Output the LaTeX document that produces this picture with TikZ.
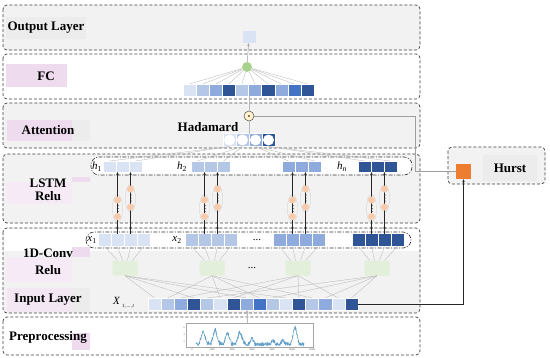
\documentclass[tikz,border=0pt]{standalone}
\usepackage{fontspec}
\setmainfont{Liberation Serif}
\usetikzlibrary{arrows.meta,shapes.misc,calc}
\definecolor{c0}{HTML}{DAE3F3}
\definecolor{c1}{HTML}{B4C7E7}
\definecolor{c2}{HTML}{8FAADC}
\definecolor{c3}{HTML}{2F5597}
\definecolor{c4}{HTML}{4472C4}
\definecolor{pgray}{HTML}{F2F2F2}
\definecolor{lgray}{HTML}{ECECEC}
\definecolor{lpink}{HTML}{EEDCEE}
\definecolor{ggreen}{HTML}{A9D18E}
\definecolor{hgreen}{HTML}{E2EFDA}
\definecolor{porange}{HTML}{F8CBAD}
\definecolor{yel}{HTML}{FFF2CC}
\definecolor{orng}{HTML}{ED7D31}
\definecolor{pblue}{HTML}{1F77B4}
\begin{document}
\begin{tikzpicture}[x=1pt,y=-1pt,
  panel/.style={draw=black!75, dash pattern=on 3pt off 2pt, line width=0.7pt, rounded corners=4pt},
  cell/.style={draw=white, line width=0.4pt, minimum width=13pt, minimum height=12pt, inner sep=0pt, outer sep=0pt},
  thinl/.style={draw=gray!55, line width=0.35pt},
  gline/.style={draw=gray!75, line width=0.6pt},
  arr/.style={draw=black!85, line width=0.6pt, -{Stealth[length=3pt,width=2.5pt]}},
  lab/.style={font=\fontsize{13}{14}\selectfont\bfseries, inner sep=0pt},
  hl/.style={font=\fontsize{11}{12}\selectfont, inner sep=0pt},
  dd/.style={draw=black!80, dash pattern=on 4pt off 1.5pt on 1pt off 1.5pt, line width=0.6pt, rounded corners=8pt, fill=white},
  hexn/.style={chamfered rectangle, chamfered rectangle corners={north west,north east}, chamfered rectangle xsep=3pt, fill=hgreen, minimum width=25pt, minimum height=15pt, inner sep=0pt},
  pc/.style={circle, fill=porange, minimum size=7pt, inner sep=0pt},
  tk/.style={font=\fontsize{2.5}{3}\selectfont, inner sep=0pt, text=black!70}
]
\useasboundingbox (0,0) rectangle (550,357);
\fill[white] (0,0) rectangle (550,357);

% ---------- panels ----------
\draw[panel, fill=pgray] (3,5) rectangle (420,50);
\draw[panel, fill=white] (3,54) rectangle (420,99);
\draw[panel, fill=pgray] (3,103) rectangle (420,148);
\draw[panel, fill=pgray] (3,154) rectangle (420,223);
\draw[panel, fill=pgray] (3,228) rectangle (420,313);
\fill[white] (4,229) rectangle (419,251);
\draw[panel, fill=white] (3,317) rectangle (420,355);
\draw[panel, fill=pgray] (448,147) rectangle (545,184);

% ---------- left labels ----------
\fill[lgray] (6,17) rectangle (86,39);
\node[lab] (lout) at (46,28) {Output Layer};
\fill[lpink] (6,64) rectangle (67,87);
\node[lab] (lfc) at (46,76) {FC};
\fill[lpink] (7,120) rectangle (72,141);
\fill[lgray] (72,120) rectangle (90,141);
\node[lab] (latt) at (48,130) {Attention};
\fill[lpink] (72,177) rectangle (90,182);
\fill[lpink!60] (7,182) rectangle (72,204);
\fill[lgray!70] (72,182) rectangle (90,204);
\node[lab] (llstm) at (48,183) {LSTM};
\node[lab] (lrelu1) at (48,196) {Relu};
\fill[lpink] (72,247) rectangle (90,257);
\fill[lpink!60] (7,257) rectangle (72,282);
\node[lab] (lconv) at (48,253) {1D-Conv};
\node[lab] (lrelu2) at (48,270) {Relu};
\fill[lpink!70] (7,288) rectangle (72,312);
\fill[lgray] (72,288) rectangle (90,312);
\node[lab] (lin) at (48,300) {Input Layer};
\fill[lpink] (72,333) rectangle (90,350);
\node[lab] (lpre) at (48,337) {Preprocessing};

% ---------- output & FC ----------
\node[fill=c0, minimum width=13pt, minimum height=12pt, inner sep=0pt] (out) at (249,37) {};
\node[circle, fill=ggreen, minimum size=10pt, inner sep=0pt] (gc) at (247,67) {};
\draw[gline, line width=0.5pt, -{Stealth[length=3pt,width=2.5pt]}] (gc) -- (out);
\foreach \c [count=\i] in {c0,c1,c2,c3,c1,c2,c3,c2,c4,c3}
  \node[cell, fill=\c, minimum width=13.1pt] (fc\i) at ({183+6.55+13.1*(\i-1)},90) {};
\foreach \i in {1,...,10}
  \draw[thinl] (fc\i.north) -- (gc);

% ---------- attention ----------
\node[circle, fill=yel, draw=black!70, line width=0.5pt, minimum size=10pt, inner sep=0pt] (had) at (249,116) {};
\fill[black] (had) circle [radius=0.9pt];
\draw[thinl] (had.north) -- (had.north |- fc6.south);
\node[lab] (hadl) at (208,127) {Hadamard};
\foreach \c [count=\i] in {c0,c1,c2,c3} {
  \node[cell, fill=\c, minimum width=13pt, minimum height=13pt] (att\i) at ({223+6.5+13*(\i-1)},140) {};
  \fill[white] (att\i) circle [radius=5.5pt];
}
\draw[thinl] (had.south) -- (had.south |- att2.north);

% ---------- LSTM row ----------
\draw[dd] (91,157) rectangle (412,175);
\foreach \s/\c [count=\g] in {103/c0,191/c1,282/c2,358/c3}
  \foreach \k in {1,2,3}
    \node[cell, fill=\c, minimum width=13pt, minimum height=11pt] (h\g-\k) at ({\s+6.5+13*(\k-1)},166.5) {};
\node[hl] (lh1) at (97,166.5) {\textit{h}\textsubscript{1}};
\node[hl] (lh2) at (182,166.5) {\textit{h}\textsubscript{2}};
\node[hl] (lhn) at (342,166.5) {\textit{h}\textsubscript{\textit{n}}};
\foreach \g in {1,...,4} {
  \draw[thinl] (att\g.south) -- (h\g-1.north);
  \draw[thinl] (att\g.south) -- (h\g-3.north);
}

% ---------- conv row ----------
\draw[dd] (86,232) rectangle (411,248);
\foreach \s/\c [count=\g] in {98/c0,185/c1,273/c2,352/c3}
  \foreach \k in {1,2,3,4}
    \node[cell, fill=\c, minimum width=13pt, minimum height=13pt] (x\g-\k) at ({\s+6.5+13*(\k-1)},240) {};
\node[hl] (lx1) at (92,240) {\textit{x}\textsubscript{1}};
\node[hl] (lx2) at (177,240) {\textit{x}\textsubscript{2}};
\node[hl] (ldots1) at (257,240) {...};

% LSTM columns
\foreach \g in {1,...,4} {
  \path (x\g-2.north) ++(0,-25) coordinate (la\g);
  \path (x\g-3.north) ++(0,-35) coordinate (ra\g);
  \draw[gray!40, line width=0.3pt] (la\g) ellipse [x radius=5pt, y radius=14pt];
  \draw[gray!40, line width=0.3pt] (ra\g) ellipse [x radius=5pt, y radius=14pt];
  \draw[arr] (x\g-2.north) -- (x\g-2.north |- h\g-1.south);
  \draw[arr] (x\g-3.north) -- (x\g-3.north |- h\g-1.south);
  \draw[arr] (x\g-2.north) -- ++(0,-8);
  \draw[arr] (x\g-3.north) -- ++(0,-8);
  \node[pc] at ($(la\g)+(0,-8.5)$) {};
  \node[pc] at ($(la\g)+(0,8)$) {};
  \node[pc] at ($(ra\g)+(0,-9.5)$) {};
  \node[pc] at ($(ra\g)+(0,8.5)$) {};
  \foreach \d in {-3,0,3} {
    \fill[black!80] ($(la\g)+(1.2,\d)$) circle [radius=0.45pt];
    \fill[black!80] ($(ra\g)+(1.2,\d-0.5)$) circle [radius=0.45pt];
  }
}

% ---------- input vector ----------
\foreach \c [count=\i] in {c0,c1,c2,c3,c1,c0,c3,c2,c4,c1,c0,c3,c1,c2,c0,c3}
  \node[cell, fill=\c, minimum width=13.125pt] (in\i) at ({148+6.56+13.125*(\i-1)},304) {};
\node[hl, anchor=west] (lX) at (113,303) {\textit{X}\,\raisebox{-3pt}{\fontsize{5}{5}\selectfont 1,\,...\,,\textit{t}}};

% hex conv units
\foreach \x [count=\g] in {125,212,298,377}
  \node[hexn] (hx\g) at (\x,268) {};
\node[hl] (ldots2) at (252,268) {...};
\foreach \g in {1,...,4}
  \foreach \k in {1,2,3,4}
    \draw[thinl] (x\g-\k.south) -- ($(hx\g.north)+({(\k-2.5)*5},0)$);
\foreach \g/\lst in {1/{1,4,8,11},2/{2,6,9,13},3/{3,7,12,15},4/{5,10,14,16}}
  \foreach \j in \lst
    \draw[thinl] (hx\g.south) -- (in\j.north);

% ---------- Hurst ----------
\node[fill=orng, minimum size=15pt, inner sep=0pt] (os) at (463.5,171.5) {};
\node[fill=lgray, minimum width=54pt, minimum height=26pt, lab] (hlab) at (510,168) {Hurst};
\coordinate (turn) at (415,116);
\draw[gline] (os.west) -| (turn) -- (had.east);
\draw[black!85, line width=0.8pt, -{Stealth[length=3pt,width=2.5pt]}] (in16.east) -| (os.south);

% ---------- preprocessing plot ----------
\node[draw=gray!70, line width=0.4pt, minimum width=127pt, minimum height=24pt, inner sep=0pt] (plot) at (249.5,335) {};
\draw[thinl, -{Stealth[length=2pt,width=2pt]}] (plot.north -| gc) -- (in8.south -| gc);
\pgfmathsetseed{7}
\draw[pblue!70, line width=0.6pt, line join=round]
  plot[domain=196:304, samples=400]
  (\x, {348-3.2*(1.2 + 4.3*max(0,1-abs(\x-203)/4) + 4.2*max(0,1-abs(\x-215)/4) + 3.8*max(0,1-abs(\x-227.5)/4) + 3.6*max(0,1-abs(\x-240)/4) + 2*max(0,1-abs(\x-252)/3) + 1.2*max(0,1-abs(\x-273)/3) + 1.3*max(0,1-abs(\x-283)/3) + 5.2*max(0,1-abs(\x-295)/4) + 0.6*rand + 0.9*rnd*(max(0,1-abs(\x-215)/14)+max(0,1-abs(\x-240)/10)+max(0,1-abs(\x-295)/6))))});
\foreach \v/\yy in {2/341.3,4/334.7,6/328}
  \node[tk, anchor=east] at (185,\yy) {\v};
\foreach \t [count=\i] in {0,2000,4000,6000,8000,10000,12000}
  \node[tk] at ({192+20*(\i-1)},349.5) {\t};
\end{tikzpicture}
\end{document}
